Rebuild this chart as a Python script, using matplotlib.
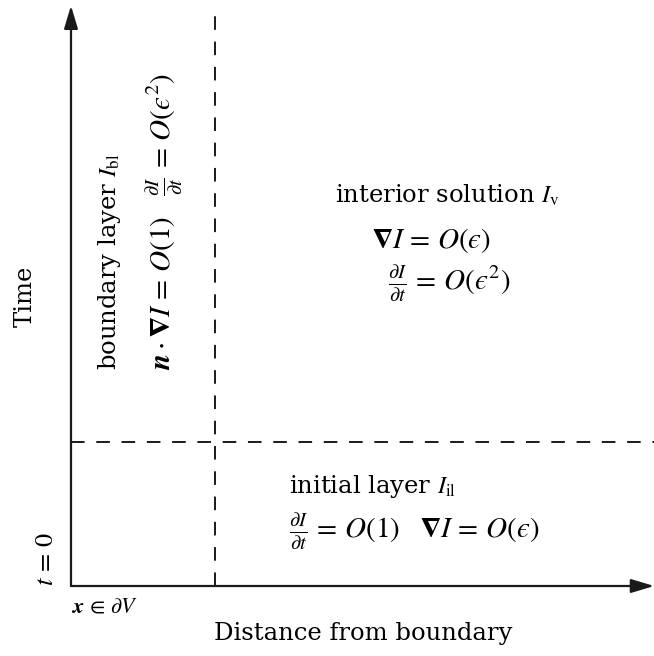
import matplotlib
matplotlib.use("Agg")
import matplotlib.pyplot as plt

plt.rcParams["font.family"] = "DejaVu Serif"
plt.rcParams["mathtext.fontset"] = "stix"

# layer thicknesses in units of the diagram
boundary_width = 1.0
initial_duration = 1.0
x_extent = 4.05
t_extent = 4.03

NABLA = "\U0001D6C1"   # bold nabla
EPS = "\u03f5"         # lunate epsilon
EQ = r"\,=\,"

boundary_labels = [r"boundary layer $I_{\rm bl}$",
                   rf"$\boldsymbol{{n}}\cdot{NABLA}I{EQ}O(1)\quad \frac{{\partial I}}{{\partial t}}{EQ}O({EPS}^2)$"]
interior_labels = [r"interior solution $I_{\rm v}$",
                   rf"${NABLA}I{EQ}O({EPS})$",
                   rf"$\frac{{\partial I}}{{\partial t}}{EQ}O({EPS}^2)$"]
initial_labels = [r"initial layer $I_{\rm il}$",
                  rf"$\frac{{\partial I}}{{\partial t}}{EQ}O(1)\quad {NABLA}I{EQ}O({EPS})$"]

fig = plt.figure(figsize=(6.54, 6.56), dpi=100)
ax = fig.add_axes([0, 0, 1, 1])
ax.set_xlim(-0.493, 4.049)
ax.set_ylim(-0.486, 4.069)
ax.axis("off")

ink = "#1a1a1a"
arrow = dict(arrowstyle="-|>,head_length=1.4,head_width=0.42", color=ink, lw=1.6,
             shrinkA=0, shrinkB=0)
ax.annotate("", xy=(x_extent, 0), xytext=(0, 0), arrowprops=arrow)
ax.annotate("", xy=(0, t_extent), xytext=(0, 0), arrowprops=arrow)

dash = dict(color=ink, lw=1.4, dashes=(7.0, 6.0))
ax.plot([boundary_width, boundary_width], [0, 3.965], **dash)
ax.plot([0, x_extent], [initial_duration, initial_duration], **dash)

fs = 17.5
mfs = 21
ax.text(-0.32, 2.01, "Time", rotation=90, ha="center", va="center", fontsize=fs)
ax.text(-0.18, 0.19, rf"$t{EQ}0$", rotation=90, ha="center", va="center", fontsize=19)
ax.text(0.0, -0.14, r"$\boldsymbol{x}\,\in\,\partial V$", ha="left", va="center", fontsize=16)
ax.text(2.03, -0.33, "Distance from boundary", ha="center", va="center", fontsize=fs)

ax.text(0.27, 1.50, boundary_labels[0], rotation=90, ha="center", va="bottom", fontsize=fs)
ax.text(0.65, 1.50, boundary_labels[1], rotation=90, ha="center", va="bottom", fontsize=mfs)

ax.text(1.833, 2.715, interior_labels[0], ha="left", va="center", fontsize=fs)
ax.text(2.09, 2.40, interior_labels[1], ha="left", va="center", fontsize=mfs)
ax.text(2.20, 2.10, interior_labels[2], ha="left", va="center", fontsize=mfs)

ax.text(1.514, 0.6875, initial_labels[0], ha="left", va="center", fontsize=fs)
ax.text(1.514, 0.375, initial_labels[1], ha="left", va="center", fontsize=mfs)

fig.savefig("out.png", dpi=100)
